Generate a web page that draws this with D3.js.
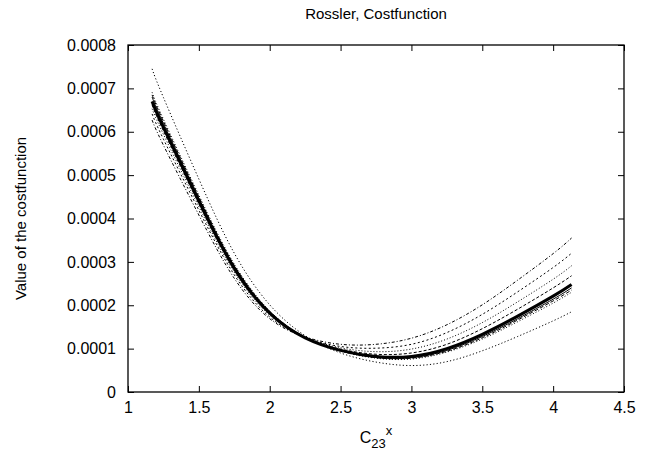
<!DOCTYPE html>
<html><head><meta charset="utf-8">
<script src="https://cdn.jsdelivr.net/npm/d3@7"></script>
<style>
body{margin:0;background:#fff}
text{font-family:"Liberation Sans",Arial,Helvetica,sans-serif;fill:#000}
</style>
</head><body>
<svg id="chart" width="652" height="451"></svg>
<script>
// ---- data ----
const xValues = [1.17,1.25,1.5,1.75,2.0,2.25,2.5,2.75,3.0,3.25,3.5,3.75,4.0,4.13];
const seriesA = [7.45e-4,6.79e-4,4.91e-4,3.20e-4,2.01e-4,1.30e-4,0.90e-4,0.69e-4,0.61e-4,0.70e-4,0.95e-4,1.28e-4,1.64e-4,1.85e-4];
const seriesE = [6.91e-4,6.29e-4,4.54e-4,2.95e-4,1.87e-4,1.26e-4,0.94e-4,0.78e-4,0.76e-4,0.92e-4,1.22e-4,1.62e-4,2.05e-4,2.30e-4];
const seriesD = [6.85e-4,6.24e-4,4.50e-4,2.92e-4,1.86e-4,1.26e-4,0.95e-4,0.79e-4,0.78e-4,0.94e-4,1.25e-4,1.66e-4,2.10e-4,2.35e-4];
const seriesC = [6.80e-4,6.19e-4,4.47e-4,2.90e-4,1.84e-4,1.26e-4,0.95e-4,0.80e-4,0.79e-4,0.96e-4,1.28e-4,1.69e-4,2.14e-4,2.40e-4];
const seriesB = [6.70e-4,6.10e-4,4.40e-4,2.85e-4,1.82e-4,1.25e-4,0.96e-4,0.82e-4,0.82e-4,1.00e-4,1.33e-4,1.75e-4,2.21e-4,2.48e-4];
const seriesF = [6.62e-4,6.02e-4,4.34e-4,2.81e-4,1.80e-4,1.25e-4,0.99e-4,0.87e-4,0.90e-4,1.10e-4,1.46e-4,1.91e-4,2.40e-4,2.68e-4];
const seriesG = [6.53e-4,5.94e-4,4.27e-4,2.76e-4,1.77e-4,1.26e-4,1.02e-4,0.93e-4,0.99e-4,1.22e-4,1.60e-4,2.08e-4,2.60e-4,2.91e-4];
const seriesH = [6.41e-4,5.83e-4,4.19e-4,2.70e-4,1.73e-4,1.26e-4,1.05e-4,1.01e-4,1.10e-4,1.37e-4,1.79e-4,2.31e-4,2.87e-4,3.20e-4];
const seriesI = [6.27e-4,5.69e-4,4.08e-4,2.62e-4,1.69e-4,1.27e-4,1.10e-4,1.10e-4,1.24e-4,1.55e-4,2.01e-4,2.58e-4,3.19e-4,3.55e-4];
const xTickValues = [1,1.5,2,2.5,3,3.5,4,4.5];
const yTickValues = [0,0.0001,0.0002,0.0003,0.0004,0.0005,0.0006,0.0007,0.0008];
const yTickLabels = ["0","0.0001","0.0002","0.0003","0.0004","0.0005","0.0006","0.0007","0.0008"];
const titleText = "Rossler, Costfunction";
const yLabelText = "Value of the costfunction";

// ---- layout ----
const svg = d3.select("#chart");
const m = {left:128, right:624, top:45, bottom:392};
const x = d3.scaleLinear().domain([1,4.5]).range([m.left,m.right]);
const y = d3.scaleLinear().domain([0,0.0008]).range([m.bottom,m.top]);
const fs = 16;

// axes with inward ticks
const gB = svg.append("g").attr("transform",`translate(0,${m.bottom})`)
  .call(d3.axisBottom(x).tickValues(xTickValues).tickSize(-6).tickPadding(10).tickFormat(d3.format("")));
const gT = svg.append("g").attr("transform",`translate(0,${m.top})`)
  .call(d3.axisTop(x).tickValues(xTickValues).tickSize(-6).tickFormat(""));
const gL = svg.append("g").attr("transform",`translate(${m.left},0)`)
  .call(d3.axisLeft(y).tickValues(yTickValues).tickSize(-6).tickPadding(12).tickFormat((d,i)=>yTickLabels[i]));
const gR = svg.append("g").attr("transform",`translate(${m.right},0)`)
  .call(d3.axisRight(y).tickValues(yTickValues).tickSize(-6).tickFormat(""));
[gB,gT,gL,gR].forEach(g=>{
  g.select(".domain").remove();
  g.selectAll(".tick line").attr("stroke","#000").attr("stroke-width",1);
  g.selectAll("text").attr("font-size",fs).attr("font-family","Liberation Sans, Arial, sans-serif").attr("fill","#000");
});

// frame
svg.append("rect").attr("x",m.left).attr("y",m.top)
  .attr("width",m.right-m.left).attr("height",m.bottom-m.top)
  .attr("fill","none").attr("stroke","#000").attr("stroke-width",1.3);

// curves
const series = [
  {v:seriesA, w:1, dash:"1.2,2.2"},
  {v:seriesE, w:1, dash:"1,2"},
  {v:seriesD, w:1, dash:"4,2"},
  {v:seriesC, w:1, dash:null},
  {v:seriesF, w:1, dash:"3,2"},
  {v:seriesG, w:1, dash:"1,2"},
  {v:seriesH, w:1, dash:"2,2.5"},
  {v:seriesI, w:1, dash:"3,2,1,2"},
  {v:seriesB, w:3, dash:null}
];
const line = d3.line().x((d,i)=>x(xValues[i])).y(d=>y(d)).curve(d3.curveNatural);
series.forEach(s=>{
  svg.append("path").datum(s.v).attr("d",line)
    .attr("fill","none").attr("stroke","#000").attr("stroke-width",s.w)
    .attr("stroke-dasharray",s.dash);
});

// title
svg.append("text").attr("x",(m.left+m.right)/2).attr("y",19)
  .attr("text-anchor","middle").attr("font-size",15).text(titleText);

// y label
svg.append("text").attr("transform",`translate(26,${(m.top+m.bottom)/2}) rotate(-90)`)
  .attr("text-anchor","middle").attr("font-size",15).text(yLabelText);

// x label C_23^x
const xl = svg.append("text").attr("x",(m.left+m.right)/2).attr("y",443)
  .attr("text-anchor","middle").attr("font-size",fs);
xl.append("tspan").text("C");
xl.append("tspan").attr("font-size",13).attr("dy",5).text("23");
xl.append("tspan").attr("font-size",13).attr("dy",-13).text("x");
</script>
</body></html>
